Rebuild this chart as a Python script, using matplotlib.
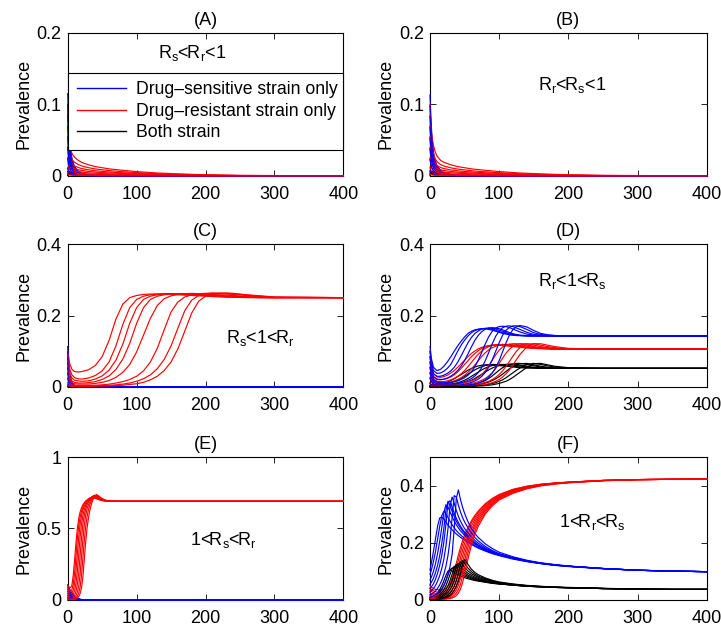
import matplotlib
matplotlib.use("Agg")
import matplotlib.pyplot as plt
from matplotlib.lines import Line2D

plt.rcParams["font.family"] = ["Liberation Sans", "DejaVu Sans"]
plt.rcParams["mathtext.default"] = "regular"
plt.rcParams["font.size"] = 13

# ---------------- time grids (days) ----------------
t_fast = [0, 1, 2, 3, 5, 7, 10, 15, 20, 30, 50, 80, 400]
t_slow = [0, 1, 2, 3, 5, 7, 10, 15, 20, 30, 40, 60, 80, 100, 130, 160, 200, 250, 400]
t_c = [0, 3, 6, 10, 15, 20, 30, 40, 50, 60, 70, 80, 90, 100, 110, 120, 130, 140,
       150, 160, 170, 180, 190, 200, 210, 220, 230, 240, 260, 280, 300, 400]
t_d = [0, 2, 5, 10, 15, 20, 25, 30, 35, 40, 45, 50, 55, 60, 65, 70, 75, 80, 85, 90,
       95, 100, 105, 110, 115, 120, 125, 130, 140, 150, 160, 170, 180, 200, 250, 300, 400]
t_e = [0, 2, 4, 6, 8, 10, 12, 14, 16, 18, 20, 22, 24, 26, 28, 30, 32, 35, 38, 42,
       46, 50, 55, 60, 70, 80, 100, 400]
t_e_fast = [0, 2, 4, 6, 8, 10, 12, 14, 16, 18, 20, 24, 28, 35, 400]
t_f = [0, 2, 5, 8, 11, 14, 17, 20, 23, 26, 29, 32, 35, 38, 41, 44, 47, 50, 55, 60,
       65, 70, 80, 90, 100, 120, 140, 160, 180, 200, 250, 300, 350, 400]

legend_labels = ["Drug\u2013sensitive strain only", "Drug\u2013resistant strain only", "Both strain"]
panel_titles = ["(A)", "(B)", "(C)", "(D)", "(E)", "(F)"]
panel_notes = [r"R$_s$<R$_r$<1", r"R$_r$<R$_s$<1", r"R$_s$<1<R$_r$",
               r"R$_r$<1<R$_s$", r"1<R$_s$<R$_r$", r"1<R$_r$<R$_s$"]

# ---------------- (A) Rs < Rr < 1 ----------------
a_sens = [
    [0.115, 0.085, 0.064, 0.049, 0.031, 0.021, 0.013, 0.007, 0.004, 0.0015, 0.0003, 0, 0],
    [0.100, 0.074, 0.056, 0.043, 0.027, 0.018, 0.011, 0.006, 0.0035, 0.0013, 0.0003, 0, 0],
    [0.085, 0.063, 0.048, 0.037, 0.023, 0.015, 0.0095, 0.005, 0.003, 0.0011, 0.0002, 0, 0],
    [0.070, 0.052, 0.040, 0.030, 0.019, 0.013, 0.008, 0.0042, 0.0025, 0.0009, 0.0002, 0, 0],
    [0.055, 0.041, 0.031, 0.024, 0.015, 0.010, 0.0062, 0.0033, 0.002, 0.0007, 0.0001, 0, 0],
    [0.040, 0.030, 0.022, 0.017, 0.011, 0.0073, 0.0045, 0.0024, 0.0014, 0.0005, 0.0001, 0, 0],
    [0.025, 0.019, 0.014, 0.011, 0.0068, 0.0046, 0.0028, 0.0015, 0.0009, 0.0003, 0, 0, 0],
    [0.010, 0.0074, 0.0056, 0.0043, 0.0027, 0.0018, 0.0011, 0.0006, 0.0004, 0.0001, 0, 0, 0],
]
a_res = [
    [0.100, 0.070, 0.052, 0.043, 0.034, 0.030, 0.026, 0.022, 0.019, 0.0155, 0.0130, 0.0098, 0.0078, 0.0060, 0.0040, 0.0028, 0.0015, 0.0007, 0],
    [0.085, 0.058, 0.042, 0.034, 0.026, 0.022, 0.019, 0.016, 0.014, 0.0115, 0.0097, 0.0074, 0.0058, 0.0045, 0.0030, 0.0021, 0.0012, 0.0005, 0],
    [0.070, 0.046, 0.032, 0.025, 0.019, 0.016, 0.014, 0.0118, 0.0103, 0.0085, 0.0072, 0.0055, 0.0043, 0.0033, 0.0022, 0.0015, 0.0008, 0.0004, 0],
    [0.055, 0.035, 0.024, 0.018, 0.014, 0.0118, 0.0102, 0.0087, 0.0076, 0.0063, 0.0053, 0.0040, 0.0032, 0.0025, 0.0017, 0.0011, 0.0006, 0.0003, 0],
    [0.040, 0.025, 0.017, 0.013, 0.0098, 0.0083, 0.0072, 0.0061, 0.0053, 0.0044, 0.0037, 0.0028, 0.0022, 0.0017, 0.0012, 0.0008, 0.0004, 0.0002, 0],
    [0.025, 0.015, 0.010, 0.0078, 0.0060, 0.0051, 0.0044, 0.0037, 0.0032, 0.0027, 0.0023, 0.0017, 0.0013, 0.0010, 0.0007, 0.0005, 0.0003, 0.0001, 0],
    [0.012, 0.0075, 0.0052, 0.0040, 0.0031, 0.0026, 0.0022, 0.0019, 0.0016, 0.0013, 0.0011, 0.0008, 0.0006, 0.0005, 0.0003, 0.0002, 0.0001, 0, 0],
    [0.003, 0.0022, 0.0017, 0.0014, 0.0011, 0.0009, 0.0008, 0.0007, 0.0006, 0.0005, 0.0004, 0.0003, 0.0002, 0.0002, 0.0001, 0, 0, 0, 0],
]
a_both = [
    [0.006, 0.0065, 0.0062, 0.0058, 0.005, 0.0042, 0.0033, 0.0022, 0.0015, 0.0007, 0.0002, 0, 0],
    [0.004, 0.0048, 0.0047, 0.0044, 0.0038, 0.0032, 0.0025, 0.0017, 0.0011, 0.0005, 0.0001, 0, 0],
    [0.002, 0.0032, 0.0033, 0.0031, 0.0027, 0.0023, 0.0018, 0.0012, 0.0008, 0.0004, 0.0001, 0, 0],
    [0.0005, 0.0015, 0.0018, 0.0018, 0.0016, 0.0014, 0.0011, 0.0007, 0.0005, 0.0002, 0, 0, 0],
]

# ---------------- (B) Rr < Rs < 1 ----------------
b_sens = [
    [0.113, 0.088, 0.068, 0.053, 0.034, 0.023, 0.0145, 0.008, 0.0045, 0.0017, 0.0004, 0, 0],
    [0.098, 0.076, 0.059, 0.046, 0.030, 0.020, 0.0125, 0.007, 0.004, 0.0015, 0.0003, 0, 0],
    [0.083, 0.065, 0.050, 0.039, 0.025, 0.017, 0.0106, 0.006, 0.0033, 0.0012, 0.0003, 0, 0],
    [0.068, 0.053, 0.041, 0.032, 0.021, 0.014, 0.0087, 0.0049, 0.0027, 0.001, 0.0002, 0, 0],
    [0.053, 0.041, 0.032, 0.025, 0.016, 0.011, 0.0068, 0.0038, 0.0021, 0.0008, 0.0002, 0, 0],
    [0.038, 0.030, 0.023, 0.018, 0.0115, 0.0078, 0.0049, 0.0027, 0.0015, 0.0006, 0.0001, 0, 0],
    [0.023, 0.018, 0.014, 0.011, 0.007, 0.0047, 0.003, 0.0016, 0.0009, 0.0003, 0, 0, 0],
    [0.008, 0.0062, 0.0048, 0.0038, 0.0024, 0.0016, 0.001, 0.0006, 0.0003, 0.0001, 0, 0, 0],
]
b_res = [
    [0.100, 0.078, 0.062, 0.053, 0.043, 0.035, 0.028, 0.022, 0.019, 0.0155, 0.013, 0.0098, 0.0078, 0.006, 0.004, 0.0028, 0.0015, 0.0007, 0],
    [0.085, 0.063, 0.048, 0.040, 0.031, 0.025, 0.020, 0.016, 0.0138, 0.0113, 0.0095, 0.0072, 0.0057, 0.0044, 0.003, 0.0021, 0.0011, 0.0005, 0],
    [0.070, 0.050, 0.036, 0.029, 0.022, 0.018, 0.0145, 0.0118, 0.0102, 0.0084, 0.0071, 0.0054, 0.0043, 0.0033, 0.0022, 0.0015, 0.0008, 0.0004, 0],
    [0.055, 0.038, 0.027, 0.021, 0.016, 0.013, 0.0105, 0.0086, 0.0075, 0.0062, 0.0052, 0.004, 0.0031, 0.0024, 0.0016, 0.0011, 0.0006, 0.0003, 0],
    [0.040, 0.027, 0.019, 0.015, 0.0113, 0.0093, 0.0075, 0.0061, 0.0053, 0.0044, 0.0037, 0.0028, 0.0022, 0.0017, 0.0012, 0.0008, 0.0004, 0.0002, 0],
    [0.025, 0.017, 0.012, 0.0093, 0.007, 0.0058, 0.0047, 0.0038, 0.0033, 0.0027, 0.0023, 0.0017, 0.0013, 0.001, 0.0007, 0.0005, 0.0003, 0.0001, 0],
    [0.012, 0.008, 0.0057, 0.0045, 0.0034, 0.0028, 0.0023, 0.0019, 0.0016, 0.0013, 0.0011, 0.0008, 0.0006, 0.0005, 0.0003, 0.0002, 0.0001, 0, 0],
    [0.003, 0.0022, 0.0017, 0.0014, 0.0011, 0.0009, 0.0008, 0.0007, 0.0006, 0.0005, 0.0004, 0.0003, 0.0002, 0.0002, 0.0001, 0, 0, 0, 0],
]
b_both = [
    [0.006, 0.0068, 0.0066, 0.0061, 0.0052, 0.0044, 0.0035, 0.0024, 0.0016, 0.0008, 0.0002, 0, 0],
    [0.004, 0.005, 0.005, 0.0046, 0.004, 0.0034, 0.0027, 0.0018, 0.0012, 0.0005, 0.0001, 0, 0],
    [0.002, 0.0033, 0.0035, 0.0033, 0.0028, 0.0024, 0.0019, 0.0013, 0.0008, 0.0004, 0.0001, 0, 0],
    [0.0005, 0.0016, 0.0019, 0.0019, 0.0017, 0.0015, 0.0012, 0.0008, 0.0005, 0.0002, 0, 0, 0],
]

# ---------------- (C) Rs < 1 < Rr ----------------
c_sens = [
    [0.113, 0.075, 0.052, 0.037, 0.019, 0.010, 0.0045, 0.0013, 0.0004, 0, 0, 0, 0],
    [0.098, 0.065, 0.045, 0.032, 0.0165, 0.0087, 0.0039, 0.0011, 0.0003, 0, 0, 0, 0],
    [0.083, 0.055, 0.038, 0.027, 0.014, 0.0073, 0.0033, 0.001, 0.0003, 0, 0, 0, 0],
    [0.068, 0.045, 0.031, 0.022, 0.0114, 0.006, 0.0027, 0.0008, 0.0002, 0, 0, 0, 0],
    [0.053, 0.035, 0.024, 0.017, 0.0089, 0.0047, 0.0021, 0.0006, 0.0002, 0, 0, 0, 0],
    [0.038, 0.025, 0.0175, 0.0124, 0.0064, 0.0034, 0.0015, 0.0004, 0.0001, 0, 0, 0, 0],
    [0.023, 0.0153, 0.0106, 0.0075, 0.0039, 0.002, 0.0009, 0.0003, 0.0001, 0, 0, 0, 0],
    [0.008, 0.0053, 0.0037, 0.0026, 0.0013, 0.0007, 0.0003, 0.0001, 0, 0, 0, 0, 0],
]
c_res = [
    [0.100, 0.065, 0.050, 0.043, 0.042, 0.043, 0.048, 0.060, 0.085, 0.130,
     0.190, 0.232, 0.250, 0.256, 0.259, 0.260, 0.260, 0.260, 0.259, 0.258,
     0.257, 0.256, 0.255, 0.254, 0.253, 0.252, 0.251, 0.251, 0.250, 0.250, 0.250, 0.250],
    [0.085, 0.050, 0.034, 0.026, 0.023, 0.022, 0.025, 0.032, 0.045, 0.070,
     0.115, 0.175, 0.222, 0.245, 0.254, 0.258, 0.260, 0.261, 0.261, 0.260,
     0.259, 0.258, 0.257, 0.256, 0.255, 0.254, 0.253, 0.252, 0.251, 0.250, 0.250, 0.250],
    [0.070, 0.038, 0.025, 0.019, 0.017, 0.016, 0.017, 0.022, 0.031, 0.047,
     0.075, 0.120, 0.178, 0.222, 0.245, 0.254, 0.258, 0.260, 0.261, 0.261,
     0.260, 0.259, 0.258, 0.257, 0.256, 0.255, 0.254, 0.253, 0.251, 0.250, 0.250, 0.250],
    [0.055, 0.028, 0.017, 0.013, 0.011, 0.011, 0.012, 0.015, 0.021, 0.031,
     0.049, 0.078, 0.122, 0.178, 0.222, 0.245, 0.254, 0.258, 0.260, 0.261,
     0.261, 0.260, 0.259, 0.258, 0.257, 0.256, 0.255, 0.254, 0.252, 0.251, 0.250, 0.250],
    [0.040, 0.020, 0.012, 0.009, 0.008, 0.008, 0.008, 0.010, 0.013, 0.018,
     0.027, 0.041, 0.063, 0.098, 0.145, 0.192, 0.228, 0.247, 0.255, 0.259,
     0.261, 0.262, 0.261, 0.260, 0.259, 0.258, 0.257, 0.256, 0.253, 0.251, 0.250, 0.250],
    [0.025, 0.011, 0.006, 0.005, 0.004, 0.004, 0.004, 0.005, 0.006, 0.008,
     0.011, 0.015, 0.021, 0.030, 0.045, 0.070, 0.108, 0.160, 0.210, 0.238,
     0.252, 0.258, 0.261, 0.262, 0.262, 0.261, 0.260, 0.259, 0.256, 0.253, 0.251, 0.250],
    [0.012, 0.006, 0.004, 0.003, 0.003, 0.003, 0.003, 0.003, 0.004, 0.005,
     0.006, 0.008, 0.011, 0.016, 0.023, 0.034, 0.051, 0.077, 0.115, 0.165,
     0.214, 0.243, 0.256, 0.261, 0.263, 0.263, 0.262, 0.261, 0.257, 0.254, 0.251, 0.250],
    [0.004, 0.003, 0.002, 0.002, 0.002, 0.002, 0.002, 0.002, 0.003, 0.003,
     0.004, 0.005, 0.007, 0.009, 0.013, 0.020, 0.030, 0.046, 0.070, 0.107,
     0.157, 0.207, 0.240, 0.254, 0.260, 0.262, 0.263, 0.262, 0.258, 0.255, 0.252, 0.250],
]
c_both = [
    [0.003, 0.0038, 0.0038, 0.0035, 0.0028, 0.0021, 0.0013, 0.0006, 0.0002, 0, 0, 0, 0],
    [0.0015, 0.0022, 0.0024, 0.0023, 0.0019, 0.0014, 0.0009, 0.0004, 0.0001, 0, 0, 0, 0],
    [0.0005, 0.001, 0.0012, 0.0012, 0.001, 0.0008, 0.0005, 0.0002, 0.0001, 0, 0, 0, 0],
]

# ---------------- (D) Rr < 1 < Rs ----------------
d_sens = [
    [0.113, 0.080, 0.055, 0.046, 0.049, 0.058, 0.070, 0.084, 0.100, 0.115,
     0.128, 0.140, 0.150, 0.156, 0.160, 0.162, 0.163, 0.163, 0.161, 0.159,
     0.156, 0.153, 0.150, 0.148, 0.146, 0.145, 0.144, 0.144, 0.143, 0.143,
     0.143, 0.143, 0.143, 0.143, 0.143, 0.143, 0.143],
    [0.100, 0.070, 0.046, 0.038, 0.039, 0.044, 0.052, 0.063, 0.081, 0.100,
     0.117, 0.131, 0.143, 0.152, 0.158, 0.161, 0.163, 0.164, 0.163, 0.161,
     0.158, 0.155, 0.152, 0.149, 0.147, 0.145, 0.144, 0.144, 0.143, 0.143,
     0.143, 0.143, 0.143, 0.143, 0.143, 0.143, 0.143],
    [0.085, 0.058, 0.037, 0.030, 0.030, 0.033, 0.038, 0.045, 0.055, 0.069,
     0.087, 0.106, 0.124, 0.139, 0.150, 0.157, 0.162, 0.164, 0.165, 0.164,
     0.162, 0.159, 0.156, 0.152, 0.149, 0.147, 0.145, 0.144, 0.143, 0.143,
     0.143, 0.143, 0.143, 0.143, 0.143, 0.143, 0.143],
    [0.070, 0.046, 0.028, 0.022, 0.021, 0.022, 0.025, 0.030, 0.037, 0.046,
     0.058, 0.074, 0.093, 0.113, 0.131, 0.145, 0.155, 0.162, 0.165, 0.166,
     0.165, 0.163, 0.160, 0.156, 0.152, 0.149, 0.147, 0.145, 0.144, 0.143,
     0.143, 0.143, 0.143, 0.143, 0.143, 0.143, 0.143],
    [0.055, 0.035, 0.020, 0.014, 0.012, 0.012, 0.012, 0.013, 0.015, 0.017,
     0.021, 0.026, 0.033, 0.043, 0.057, 0.076, 0.098, 0.121, 0.141, 0.156,
     0.165, 0.169, 0.170, 0.169, 0.166, 0.162, 0.158, 0.154, 0.148, 0.145,
     0.144, 0.143, 0.143, 0.143, 0.143, 0.143, 0.143],
    [0.040, 0.025, 0.014, 0.009, 0.008, 0.008, 0.008, 0.008, 0.009, 0.010,
     0.012, 0.015, 0.019, 0.024, 0.031, 0.041, 0.055, 0.074, 0.097, 0.121,
     0.142, 0.157, 0.166, 0.170, 0.171, 0.169, 0.165, 0.161, 0.153, 0.147,
     0.145, 0.144, 0.143, 0.143, 0.143, 0.143, 0.143],
    [0.025, 0.015, 0.008, 0.005, 0.004, 0.004, 0.004, 0.004, 0.005, 0.005,
     0.006, 0.008, 0.010, 0.013, 0.017, 0.022, 0.030, 0.041, 0.056, 0.076,
     0.100, 0.124, 0.145, 0.159, 0.167, 0.171, 0.171, 0.169, 0.161, 0.152,
     0.147, 0.145, 0.144, 0.143, 0.143, 0.143, 0.143],
    [0.010, 0.006, 0.003, 0.002, 0.002, 0.002, 0.002, 0.002, 0.002, 0.003,
     0.003, 0.004, 0.005, 0.006, 0.008, 0.011, 0.015, 0.020, 0.028, 0.039,
     0.054, 0.074, 0.099, 0.124, 0.146, 0.161, 0.169, 0.172, 0.168, 0.158,
     0.150, 0.146, 0.144, 0.143, 0.143, 0.143, 0.143],
]
d_res = [
    [0.100, 0.065, 0.038, 0.028, 0.027, 0.029, 0.033, 0.039, 0.046, 0.055,
     0.065, 0.075, 0.085, 0.094, 0.101, 0.107, 0.111, 0.114, 0.116, 0.117,
     0.117, 0.117, 0.116, 0.115, 0.114, 0.113, 0.112, 0.111, 0.109, 0.108,
     0.107, 0.107, 0.106, 0.106, 0.106, 0.106, 0.106],
    [0.085, 0.053, 0.030, 0.021, 0.020, 0.021, 0.024, 0.028, 0.034, 0.042,
     0.052, 0.063, 0.074, 0.085, 0.094, 0.102, 0.108, 0.112, 0.115, 0.117,
     0.118, 0.118, 0.118, 0.117, 0.116, 0.115, 0.114, 0.113, 0.111, 0.109,
     0.108, 0.107, 0.106, 0.106, 0.106, 0.106, 0.106],
    [0.070, 0.043, 0.023, 0.016, 0.015, 0.015, 0.017, 0.020, 0.024, 0.030,
     0.037, 0.046, 0.057, 0.069, 0.081, 0.092, 0.101, 0.108, 0.113, 0.116,
     0.118, 0.119, 0.119, 0.118, 0.117, 0.116, 0.115, 0.114, 0.112, 0.110,
     0.108, 0.107, 0.106, 0.106, 0.106, 0.106, 0.106],
    [0.055, 0.033, 0.017, 0.012, 0.011, 0.011, 0.012, 0.014, 0.017, 0.021,
     0.026, 0.033, 0.041, 0.051, 0.062, 0.074, 0.086, 0.096, 0.104, 0.110,
     0.114, 0.117, 0.119, 0.119, 0.119, 0.118, 0.117, 0.116, 0.114, 0.111,
     0.109, 0.108, 0.107, 0.106, 0.106, 0.106, 0.106],
    [0.040, 0.024, 0.012, 0.008, 0.007, 0.007, 0.007, 0.007, 0.008, 0.009,
     0.010, 0.012, 0.014, 0.017, 0.021, 0.027, 0.035, 0.046, 0.060, 0.075,
     0.090, 0.103, 0.112, 0.117, 0.120, 0.121, 0.121, 0.120, 0.117, 0.113,
     0.110, 0.108, 0.107, 0.106, 0.106, 0.106, 0.106],
    [0.025, 0.015, 0.007, 0.005, 0.004, 0.004, 0.004, 0.004, 0.004, 0.005,
     0.006, 0.007, 0.008, 0.010, 0.012, 0.015, 0.019, 0.024, 0.031, 0.040,
     0.052, 0.066, 0.081, 0.095, 0.106, 0.114, 0.119, 0.121, 0.121, 0.117,
     0.113, 0.110, 0.108, 0.106, 0.106, 0.106, 0.106],
    [0.012, 0.007, 0.004, 0.002, 0.002, 0.002, 0.002, 0.002, 0.002, 0.003,
     0.003, 0.004, 0.004, 0.005, 0.006, 0.008, 0.010, 0.013, 0.016, 0.021,
     0.027, 0.035, 0.045, 0.058, 0.072, 0.087, 0.100, 0.110, 0.120, 0.121,
     0.117, 0.113, 0.110, 0.107, 0.106, 0.106, 0.106],
    [0.003, 0.002, 0.001, 0.001, 0.001, 0.001, 0.001, 0.001, 0.001, 0.001,
     0.002, 0.002, 0.002, 0.003, 0.003, 0.004, 0.005, 0.007, 0.009, 0.012,
     0.016, 0.021, 0.028, 0.037, 0.048, 0.062, 0.077, 0.091, 0.112, 0.121,
     0.121, 0.117, 0.113, 0.108, 0.106, 0.106, 0.106],
]
d_both = [
    [0.005, 0.006, 0.007, 0.008, 0.009, 0.011, 0.014, 0.018, 0.023, 0.029,
     0.035, 0.041, 0.047, 0.052, 0.056, 0.059, 0.061, 0.062, 0.062, 0.062,
     0.061, 0.060, 0.059, 0.058, 0.057, 0.056, 0.055, 0.054, 0.053, 0.053,
     0.052, 0.052, 0.052, 0.052, 0.052, 0.052, 0.052],
    [0.004, 0.004, 0.005, 0.006, 0.007, 0.008, 0.010, 0.012, 0.015, 0.019,
     0.024, 0.030, 0.036, 0.042, 0.048, 0.053, 0.057, 0.060, 0.062, 0.063,
     0.063, 0.062, 0.061, 0.060, 0.059, 0.058, 0.057, 0.056, 0.054, 0.053,
     0.053, 0.052, 0.052, 0.052, 0.052, 0.052, 0.052],
    [0.003, 0.003, 0.004, 0.004, 0.005, 0.006, 0.007, 0.008, 0.010, 0.012,
     0.015, 0.019, 0.024, 0.030, 0.036, 0.042, 0.048, 0.053, 0.057, 0.060,
     0.062, 0.063, 0.063, 0.063, 0.062, 0.061, 0.060, 0.059, 0.056, 0.054,
     0.053, 0.053, 0.052, 0.052, 0.052, 0.052, 0.052],
    [0.002, 0.002, 0.003, 0.003, 0.003, 0.004, 0.005, 0.006, 0.007, 0.008,
     0.010, 0.012, 0.015, 0.019, 0.024, 0.030, 0.036, 0.042, 0.048, 0.053,
     0.057, 0.060, 0.062, 0.063, 0.064, 0.063, 0.062, 0.061, 0.058, 0.055,
     0.054, 0.053, 0.052, 0.052, 0.052, 0.052, 0.052],
    [0.001, 0.001, 0.002, 0.002, 0.002, 0.002, 0.002, 0.003, 0.003, 0.003,
     0.004, 0.005, 0.006, 0.007, 0.009, 0.011, 0.014, 0.018, 0.024, 0.031,
     0.039, 0.047, 0.054, 0.059, 0.063, 0.065, 0.066, 0.066, 0.063, 0.059,
     0.056, 0.054, 0.053, 0.052, 0.052, 0.052, 0.052],
    [0.001, 0.001, 0.001, 0.001, 0.001, 0.001, 0.002, 0.002, 0.002, 0.002,
     0.003, 0.003, 0.004, 0.005, 0.006, 0.007, 0.009, 0.011, 0.014, 0.018,
     0.023, 0.029, 0.036, 0.044, 0.051, 0.057, 0.062, 0.065, 0.066, 0.062,
     0.058, 0.055, 0.053, 0.052, 0.052, 0.052, 0.052],
    [0.000, 0.000, 0.001, 0.001, 0.001, 0.001, 0.001, 0.001, 0.001, 0.001,
     0.002, 0.002, 0.002, 0.003, 0.003, 0.004, 0.005, 0.006, 0.008, 0.010,
     0.012, 0.016, 0.020, 0.026, 0.033, 0.040, 0.047, 0.053, 0.063, 0.066,
     0.063, 0.059, 0.056, 0.053, 0.052, 0.052, 0.052],
    [0.000, 0.000, 0.000, 0.000, 0.000, 0.001, 0.001, 0.001, 0.001, 0.001,
     0.001, 0.001, 0.002, 0.002, 0.002, 0.003, 0.003, 0.004, 0.005, 0.006,
     0.008, 0.010, 0.013, 0.016, 0.021, 0.027, 0.034, 0.041, 0.055, 0.065,
     0.066, 0.062, 0.058, 0.054, 0.052, 0.052, 0.052],
]

# ---------------- (E) 1 < Rs < Rr ----------------
e_sens = [
    [0.105, 0.084, 0.065, 0.049, 0.037, 0.026, 0.019, 0.013, 0.008, 0.005, 0.003, 0.0012, 0.0004, 0, 0],
    [0.090, 0.072, 0.056, 0.042, 0.032, 0.023, 0.016, 0.011, 0.007, 0.0045, 0.0027, 0.001, 0.0004, 0, 0],
    [0.075, 0.060, 0.047, 0.035, 0.026, 0.019, 0.0135, 0.009, 0.006, 0.0038, 0.0023, 0.0009, 0.0003, 0, 0],
    [0.060, 0.048, 0.037, 0.028, 0.021, 0.015, 0.011, 0.0072, 0.0048, 0.003, 0.0018, 0.0007, 0.0002, 0, 0],
    [0.045, 0.036, 0.028, 0.021, 0.016, 0.011, 0.008, 0.0054, 0.0036, 0.0023, 0.0014, 0.0005, 0.0002, 0, 0],
    [0.030, 0.024, 0.019, 0.014, 0.0105, 0.0075, 0.0054, 0.0036, 0.0024, 0.0015, 0.0009, 0.0004, 0.0001, 0, 0],
    [0.015, 0.012, 0.0093, 0.007, 0.0053, 0.0038, 0.0027, 0.0018, 0.0012, 0.0008, 0.0005, 0.0002, 0, 0, 0],
    [0.005, 0.004, 0.0031, 0.0024, 0.0018, 0.0013, 0.0009, 0.0006, 0.0004, 0.0003, 0.0002, 0, 0, 0, 0],
]
e_res = [
    [0.105, 0.090, 0.085, 0.100, 0.170, 0.280, 0.400, 0.500, 0.570, 0.615,
     0.645, 0.665, 0.680, 0.692, 0.700, 0.707, 0.712, 0.715, 0.713, 0.707,
     0.700, 0.695, 0.692, 0.690, 0.690, 0.690, 0.690, 0.690],
    [0.090, 0.070, 0.060, 0.070, 0.110, 0.190, 0.310, 0.430, 0.520, 0.580,
     0.620, 0.650, 0.670, 0.685, 0.696, 0.705, 0.712, 0.718, 0.718, 0.711,
     0.703, 0.697, 0.693, 0.691, 0.690, 0.690, 0.690, 0.690],
    [0.075, 0.052, 0.042, 0.045, 0.068, 0.115, 0.200, 0.320, 0.440, 0.530,
     0.590, 0.630, 0.655, 0.675, 0.690, 0.700, 0.710, 0.720, 0.722, 0.715,
     0.706, 0.699, 0.694, 0.691, 0.690, 0.690, 0.690, 0.690],
    [0.060, 0.038, 0.028, 0.027, 0.038, 0.065, 0.115, 0.200, 0.320, 0.440,
     0.530, 0.590, 0.630, 0.660, 0.680, 0.695, 0.708, 0.722, 0.727, 0.720,
     0.709, 0.700, 0.694, 0.691, 0.690, 0.690, 0.690, 0.690],
    [0.045, 0.027, 0.018, 0.016, 0.020, 0.033, 0.060, 0.110, 0.190, 0.310,
     0.430, 0.530, 0.590, 0.635, 0.665, 0.685, 0.700, 0.720, 0.730, 0.725,
     0.712, 0.702, 0.695, 0.692, 0.690, 0.690, 0.690, 0.690],
    [0.030, 0.018, 0.011, 0.009, 0.011, 0.017, 0.030, 0.055, 0.100, 0.180,
     0.300, 0.420, 0.520, 0.590, 0.635, 0.665, 0.688, 0.715, 0.732, 0.730,
     0.716, 0.705, 0.696, 0.692, 0.690, 0.690, 0.690, 0.690],
    [0.015, 0.009, 0.006, 0.005, 0.006, 0.009, 0.015, 0.027, 0.050, 0.090,
     0.170, 0.290, 0.410, 0.510, 0.580, 0.630, 0.665, 0.700, 0.728, 0.735,
     0.720, 0.707, 0.697, 0.693, 0.690, 0.690, 0.690, 0.690],
    [0.003, 0.002, 0.002, 0.002, 0.003, 0.004, 0.007, 0.013, 0.024, 0.045,
     0.085, 0.160, 0.280, 0.400, 0.500, 0.570, 0.625, 0.680, 0.720, 0.737,
     0.724, 0.709, 0.698, 0.693, 0.690, 0.690, 0.690, 0.690],
]
e_both = [
    [0.004, 0.006, 0.0065, 0.006, 0.005, 0.004, 0.003, 0.002, 0.0014, 0.001, 0.0006, 0.0002, 0.0001, 0, 0],
    [0.002, 0.0035, 0.004, 0.0038, 0.0032, 0.0026, 0.002, 0.0014, 0.001, 0.0007, 0.0004, 0.0002, 0, 0, 0],
    [0.0005, 0.0015, 0.002, 0.002, 0.0018, 0.0015, 0.0011, 0.0008, 0.0006, 0.0004, 0.0002, 0.0001, 0, 0, 0],
]

# ---------------- (F) 1 < Rr < Rs ----------------
f_sens = [
    [0.105, 0.130, 0.170, 0.215, 0.258, 0.287, 0.290, 0.283, 0.272, 0.262,
     0.253, 0.245, 0.238, 0.231, 0.225, 0.219, 0.214, 0.209,
     0.201, 0.194, 0.187, 0.181, 0.171, 0.162,
     0.155, 0.143, 0.134, 0.127, 0.121, 0.117, 0.109, 0.104, 0.101, 0.099],
    [0.090, 0.105, 0.135, 0.170, 0.213, 0.257, 0.295, 0.310, 0.302, 0.288,
     0.275, 0.263, 0.252, 0.243, 0.235, 0.228, 0.221, 0.215,
     0.206, 0.198, 0.190, 0.184, 0.173, 0.164,
     0.157, 0.145, 0.135, 0.128, 0.122, 0.118, 0.110, 0.104, 0.101, 0.099],
    [0.070, 0.080, 0.100, 0.128, 0.163, 0.205, 0.253, 0.305, 0.333, 0.325,
     0.308, 0.291, 0.276, 0.263, 0.252, 0.242, 0.234, 0.226,
     0.214, 0.204, 0.195, 0.188, 0.176, 0.166,
     0.158, 0.146, 0.136, 0.128, 0.122, 0.118, 0.110, 0.104, 0.101, 0.099],
    [0.055, 0.062, 0.076, 0.096, 0.122, 0.155, 0.197, 0.250, 0.315, 0.345,
     0.330, 0.310, 0.292, 0.276, 0.263, 0.252, 0.242, 0.233,
     0.220, 0.208, 0.198, 0.190, 0.177, 0.167,
     0.158, 0.146, 0.136, 0.128, 0.122, 0.118, 0.110, 0.104, 0.101, 0.099],
    [0.040, 0.046, 0.057, 0.073, 0.094, 0.121, 0.156, 0.203, 0.265, 0.340,
     0.347, 0.325, 0.304, 0.286, 0.271, 0.258, 0.247, 0.238,
     0.224, 0.211, 0.201, 0.192, 0.178, 0.168,
     0.159, 0.146, 0.136, 0.128, 0.122, 0.118, 0.110, 0.104, 0.101, 0.099],
    [0.028, 0.032, 0.040, 0.051, 0.066, 0.085, 0.110, 0.143, 0.188, 0.250,
     0.330, 0.360, 0.338, 0.313, 0.293, 0.276, 0.262, 0.250,
     0.234, 0.220, 0.208, 0.198, 0.182, 0.170,
     0.160, 0.147, 0.137, 0.129, 0.123, 0.118, 0.110, 0.104, 0.101, 0.099],
    [0.018, 0.020, 0.025, 0.032, 0.041, 0.053, 0.069, 0.090, 0.118, 0.156,
     0.210, 0.290, 0.365, 0.360, 0.332, 0.308, 0.289, 0.273,
     0.252, 0.233, 0.218, 0.206, 0.187, 0.173,
     0.162, 0.148, 0.137, 0.129, 0.123, 0.118, 0.110, 0.104, 0.101, 0.099],
    [0.010, 0.011, 0.014, 0.018, 0.023, 0.030, 0.039, 0.051, 0.067, 0.088,
     0.118, 0.160, 0.250, 0.355, 0.385, 0.352, 0.325, 0.303,
     0.273, 0.250, 0.232, 0.218, 0.196, 0.180,
     0.167, 0.151, 0.139, 0.130, 0.124, 0.119, 0.110, 0.104, 0.101, 0.099],
]
f_res = [
    [0.050, 0.045, 0.040, 0.037, 0.036, 0.035, 0.035, 0.037, 0.041, 0.048,
     0.058, 0.076, 0.100, 0.128, 0.157, 0.183, 0.207, 0.228,
     0.254, 0.278, 0.296, 0.312, 0.337, 0.355,
     0.369, 0.387, 0.398, 0.405, 0.409, 0.412, 0.418, 0.421, 0.422, 0.423],
    [0.042, 0.037, 0.032, 0.029, 0.027, 0.027, 0.028, 0.029, 0.032, 0.038,
     0.047, 0.061, 0.082, 0.110, 0.139, 0.167, 0.192, 0.215,
     0.246, 0.271, 0.290, 0.307, 0.333, 0.353,
     0.367, 0.386, 0.397, 0.404, 0.409, 0.412, 0.418, 0.421, 0.422, 0.423],
    [0.034, 0.030, 0.025, 0.022, 0.021, 0.020, 0.021, 0.021, 0.024, 0.029,
     0.036, 0.047, 0.064, 0.088, 0.117, 0.146, 0.173, 0.198,
     0.233, 0.260, 0.282, 0.300, 0.328, 0.349,
     0.364, 0.384, 0.396, 0.404, 0.408, 0.412, 0.418, 0.421, 0.422, 0.423],
    [0.026, 0.022, 0.018, 0.016, 0.014, 0.013, 0.013, 0.015, 0.017, 0.021,
     0.027, 0.036, 0.049, 0.069, 0.096, 0.125, 0.153, 0.180,
     0.218, 0.248, 0.273, 0.293, 0.323, 0.345,
     0.361, 0.382, 0.395, 0.403, 0.408, 0.411, 0.418, 0.421, 0.422, 0.423],
    [0.018, 0.015, 0.012, 0.010, 0.009, 0.009, 0.009, 0.010, 0.011, 0.014,
     0.018, 0.025, 0.035, 0.050, 0.072, 0.100, 0.131, 0.160,
     0.203, 0.237, 0.263, 0.286, 0.318, 0.342,
     0.359, 0.380, 0.394, 0.402, 0.408, 0.411, 0.418, 0.421, 0.422, 0.423],
    [0.012, 0.010, 0.008, 0.007, 0.006, 0.006, 0.006, 0.007, 0.008, 0.009,
     0.012, 0.017, 0.024, 0.035, 0.052, 0.076, 0.106, 0.138,
     0.186, 0.224, 0.254, 0.278, 0.313, 0.338,
     0.356, 0.378, 0.392, 0.401, 0.407, 0.411, 0.418, 0.421, 0.422, 0.423],
    [0.007, 0.006, 0.005, 0.004, 0.004, 0.004, 0.004, 0.004, 0.005, 0.006,
     0.008, 0.011, 0.016, 0.024, 0.036, 0.055, 0.083, 0.114,
     0.166, 0.209, 0.242, 0.269, 0.307, 0.334,
     0.353, 0.375, 0.390, 0.400, 0.406, 0.410, 0.417, 0.421, 0.422, 0.423],
    [0.003, 0.003, 0.002, 0.002, 0.002, 0.002, 0.002, 0.002, 0.003, 0.004,
     0.005, 0.007, 0.010, 0.015, 0.024, 0.038, 0.060, 0.090,
     0.145, 0.193, 0.230, 0.259, 0.301, 0.329,
     0.350, 0.373, 0.389, 0.399, 0.405, 0.410, 0.417, 0.421, 0.422, 0.423],
]
f_both = [
    [0.008, 0.010, 0.014, 0.019, 0.026, 0.036, 0.050, 0.067, 0.086, 0.101,
     0.105, 0.102, 0.097, 0.092, 0.088, 0.084, 0.081, 0.078,
     0.074, 0.071, 0.068, 0.066, 0.062, 0.058,
     0.056, 0.052, 0.048, 0.046, 0.044, 0.043, 0.040, 0.038, 0.037, 0.037],
    [0.006, 0.007, 0.010, 0.014, 0.019, 0.026, 0.036, 0.050, 0.068, 0.089,
     0.106, 0.112, 0.108, 0.102, 0.096, 0.091, 0.087, 0.083,
     0.078, 0.074, 0.070, 0.067, 0.063, 0.059,
     0.056, 0.052, 0.048, 0.046, 0.044, 0.043, 0.040, 0.038, 0.037, 0.037],
    [0.005, 0.006, 0.008, 0.010, 0.014, 0.019, 0.026, 0.036, 0.050, 0.068,
     0.090, 0.109, 0.118, 0.114, 0.107, 0.100, 0.094, 0.089,
     0.082, 0.077, 0.073, 0.069, 0.064, 0.060,
     0.057, 0.052, 0.048, 0.046, 0.044, 0.043, 0.040, 0.038, 0.037, 0.037],
    [0.004, 0.004, 0.006, 0.008, 0.010, 0.014, 0.019, 0.026, 0.036, 0.050,
     0.068, 0.090, 0.112, 0.124, 0.118, 0.109, 0.101, 0.095,
     0.087, 0.081, 0.076, 0.072, 0.066, 0.061,
     0.057, 0.052, 0.049, 0.046, 0.044, 0.043, 0.040, 0.038, 0.037, 0.037],
    [0.003, 0.003, 0.004, 0.006, 0.008, 0.010, 0.014, 0.019, 0.026, 0.036,
     0.050, 0.068, 0.092, 0.117, 0.128, 0.120, 0.111, 0.103,
     0.093, 0.086, 0.080, 0.075, 0.068, 0.063,
     0.058, 0.053, 0.049, 0.046, 0.044, 0.043, 0.040, 0.038, 0.037, 0.037],
    [0.002, 0.002, 0.003, 0.004, 0.005, 0.007, 0.010, 0.014, 0.019, 0.026,
     0.036, 0.050, 0.069, 0.094, 0.122, 0.133, 0.124, 0.114,
     0.101, 0.092, 0.085, 0.079, 0.071, 0.065,
     0.060, 0.054, 0.050, 0.047, 0.045, 0.043, 0.040, 0.038, 0.037, 0.037],
    [0.001, 0.001, 0.002, 0.002, 0.003, 0.004, 0.006, 0.009, 0.012, 0.017,
     0.024, 0.034, 0.048, 0.067, 0.093, 0.122, 0.138, 0.128,
     0.111, 0.099, 0.090, 0.083, 0.074, 0.067,
     0.061, 0.055, 0.050, 0.047, 0.045, 0.043, 0.040, 0.038, 0.037, 0.037],
    [0.001, 0.001, 0.001, 0.001, 0.002, 0.003, 0.004, 0.006, 0.008, 0.011,
     0.016, 0.023, 0.033, 0.047, 0.066, 0.092, 0.123, 0.142,
     0.124, 0.107, 0.096, 0.088, 0.077, 0.069,
     0.063, 0.056, 0.051, 0.048, 0.045, 0.044, 0.041, 0.038, 0.037, 0.037],
]

LW = 0.85
SENS_C, RES_C, BOTH_C = "#0000ff", "#ff0000", "#000000"


def draw_runs(ax, sens, res, both):
    """Plot each simulation run: sensitive (blue), resistant (red), both (black)."""
    groups = [(sens, SENS_C), (res, RES_C), (both, BOTH_C)]
    n = max(len(g[0][1]) for g in groups)
    for i in range(n):
        for (t, runs), color in groups:
            if i < len(runs):
                ax.plot(t, runs[i], color=color, lw=LW, clip_on=False, zorder=3)


def style(ax, title, ymax, yticks, ylabels):
    ax.set_xlim(0, 400)
    ax.set_ylim(0, ymax)
    ax.set_xticks([0, 100, 200, 300, 400])
    ax.set_yticks(yticks)
    ax.set_yticklabels(ylabels)
    ax.tick_params(direction="in", top=True, right=True, length=4, width=0.6,
                   labelsize=13)
    ax.tick_params(axis="x", pad=7)
    ax.tick_params(axis="y", pad=4.5)
    ax.set_ylabel("Prevalence", fontsize=13, labelpad=3)
    ax.set_title(title, fontsize=13, pad=6)
    for sp in ax.spines.values():
        sp.set_linewidth(0.8)


fig = plt.figure(figsize=(7.21, 6.27), dpi=100)

col_x = [(0.0939, 0.3823), (0.5964, 0.3838)]
row_y = [0.7195, 0.3828, 0.0431]
h = 0.228

axes = []
for r in range(3):
    for c in range(2):
        x0, w = col_x[c]
        axes.append(fig.add_axes([x0, row_y[r], w, h]))

panel_data = [
    ((t_fast, a_sens), (t_slow, a_res), (t_fast, a_both)),
    ((t_fast, b_sens), (t_slow, b_res), (t_fast, b_both)),
    ((t_fast, c_sens), (t_c, c_res), (t_fast, c_both)),
    ((t_d, d_sens), (t_d, d_res), (t_d, d_both)),
    ((t_e_fast, e_sens), (t_e, e_res), (t_e_fast, e_both)),
    ((t_f, f_sens), (t_f, f_res), (t_f, f_both)),
]
y_setup = [
    (0.2, [0, 0.1, 0.2], ["0", "0.1", "0.2"]),
    (0.2, [0, 0.1, 0.2], ["0", "0.1", "0.2"]),
    (0.4, [0, 0.2, 0.4], ["0", "0.2", "0.4"]),
    (0.4, [0, 0.2, 0.4], ["0", "0.2", "0.4"]),
    (1.0, [0, 0.5, 1.0], ["0", "0.5", "1"]),
    (0.5, [0, 0.2, 0.4], ["0", "0.2", "0.4"]),
]
note_xy = [(180, 0.172), (206, 0.127), (279, 0.136), (206, 0.297), (226, 0.42), (235, 0.272)]

for ax, data, (ymax, yt, yl), title, note, (nx, ny) in zip(
        axes, panel_data, y_setup, panel_titles, panel_notes, note_xy):
    draw_runs(ax, *data)
    style(ax, title, ymax, yt, yl)
    ax.text(nx, ny, note, ha="center", va="center", fontsize=13, zorder=4)

handles = [Line2D([0, 1], [0, 0], color=c, lw=1.0) for c in (SENS_C, RES_C, BOTH_C)]
leg = axes[0].legend(handles, legend_labels, loc="upper left",
                     bbox_to_anchor=(0, 0, 1, 0.722), mode="expand",
                     borderaxespad=0, fancybox=False, framealpha=1,
                     edgecolor="k", handlelength=2.8, handletextpad=0.6,
                     labelspacing=0.25, borderpad=0.5, fontsize=12.7)
leg.get_frame().set_linewidth(0.8)
leg.set_zorder(10)

fig.savefig("out.png", dpi=100)
